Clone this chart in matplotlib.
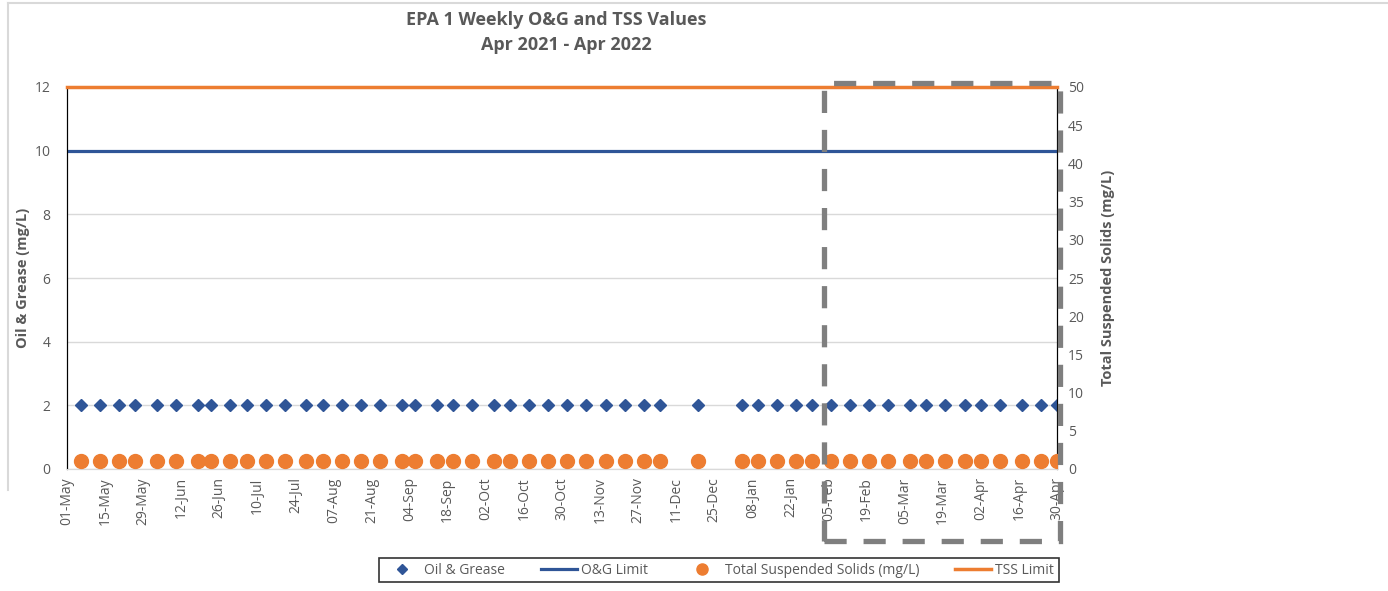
import numpy as np
import pandas as pd
import matplotlib
matplotlib.use("Agg")
import matplotlib.pyplot as plt
import matplotlib.dates as mdates
from matplotlib.patches import Rectangle
from matplotlib.lines import Line2D

# Datos
fechas = ["2021-05-06", "2021-05-13", "2021-05-20", "2021-05-26", "2021-06-03",
          "2021-06-10", "2021-06-18", "2021-06-23", "2021-06-30", "2021-07-06",
          "2021-07-13", "2021-07-20", "2021-07-28", "2021-08-03", "2021-08-10",
          "2021-08-17", "2021-08-24", "2021-09-01", "2021-09-06", "2021-09-14",
          "2021-09-20", "2021-09-27", "2021-10-05", "2021-10-11", "2021-10-18",
          "2021-10-25", "2021-11-01", "2021-11-08", "2021-11-15", "2021-11-22",
          "2021-11-29", "2021-12-05", "2021-12-19", "2022-01-04", "2022-01-10",
          "2022-01-17", "2022-01-24", "2022-01-30", "2022-02-06", "2022-02-13",
          "2022-02-20", "2022-02-27", "2022-03-07", "2022-03-13", "2022-03-20",
          "2022-03-27", "2022-04-02", "2022-04-09", "2022-04-17", "2022-04-24",
          "2022-04-30"]
oil_grease = [2] * len(fechas)
tss = [1] * len(fechas)
og_limit = 10
tss_limit = 50
x_inicio = "2021-05-01"
x_fin = "2022-04-30"

fechas = pd.to_datetime(fechas)
x0 = pd.Timestamp(x_inicio)
x1 = pd.Timestamp(x_fin)

azul = "#2F5597"
naranja = "#ED7D31"
gris = "#595959"

plt.rcParams['font.family'] = ['Open Sans', 'DejaVu Sans']

fig = plt.figure(figsize=(13.88, 5.91), dpi=100)
ax1 = fig.add_axes([67 / 1388, 1 - 469 / 591, 990 / 1388, 382 / 591])
ax2 = ax1.twinx()

# Eje izquierdo: aceite y grasa
ax1.plot(fechas, oil_grease, ls='none', marker='D', ms=6.5, color=azul,
         label='Oil & Grease', zorder=4)
ax1.plot([x0, x1], [og_limit, og_limit], color=azul, lw=2.3,
         label='O&G Limit', zorder=3)
ax1.set_ylim(0, 12)
ax1.set_yticks(np.arange(0, 13, 2))
ax1.set_xlim(x0, x1)
ax1.grid(axis='y', color='#D9D9D9', lw=1)
ax1.set_axisbelow(True)
ax1.set_ylabel('Oil & Grease (mg/L)', color=gris, fontsize=10.5,
               fontweight='bold', labelpad=3)

# Eje derecho: solidos suspendidos
ax2.plot(fechas, tss, ls='none', marker='o', ms=10, color=naranja,
         label='Total Suspended Solids (mg/L)', zorder=4)
ax2.plot([x0, x1], [tss_limit, tss_limit], color=naranja, lw=2.5,
         label='TSS Limit', zorder=3, clip_on=False)
ax2.set_ylim(0, 50)
ax2.set_yticks(np.arange(0, 51, 5))
ax2.set_ylabel('Total Suspended Solids (mg/L)', color=gris, fontsize=10.5,
               fontweight='bold', labelpad=12)

# Ticks de fecha cada 14 dias
ticks = pd.date_range(x0, x1, freq='14D')
ax1.set_xticks(ticks)
ax1.xaxis.set_major_formatter(mdates.DateFormatter('%d-%b'))
for lbl in ax1.get_xticklabels():
    lbl.set_rotation(90)

for ax in (ax1, ax2):
    ax.tick_params(length=0, colors=gris, labelsize=10)
    ax.spines['top'].set_visible(False)
    ax.spines['left'].set_color('black')
    ax.spines['right'].set_color('black')
    ax.spines['bottom'].set_color('#D9D9D9')
ax1.tick_params(axis='y', pad=12)
ax2.tick_params(axis='y', pad=8)
ax1.tick_params(axis='x', pad=6)

# Titulo
fig.text(556 / 1388, 1 - 20 / 591, 'EPA 1 Weekly O&G and TSS Values',
         ha='center', va='center', fontsize=13, fontweight='bold', color=gris)
fig.text(566 / 1388, 1 - 45 / 591, 'Apr 2021 - Apr 2022',
         ha='center', va='center', fontsize=13, fontweight='bold', color=gris)

# Leyenda
h1, l1 = ax1.get_legend_handles_labels()
h2, l2 = ax2.get_legend_handles_labels()
leg = fig.legend(h1 + h2, l1 + l2, loc='center', ncol=4,
                 bbox_to_anchor=(719 / 1388, 1 - 570 / 591),
                 frameon=True, fancybox=False, edgecolor='black',
                 fontsize=10, handlelength=2.6, handletextpad=0.3,
                 columnspacing=2.6, markerscale=0.8, borderpad=0.35)
leg.get_frame().set_linewidth(1.2)
for t in leg.get_texts():
    t.set_color(gris)

# Recuadro punteado gris
rect = Rectangle((824 / 1388, 1 - 541 / 591), (1060 - 824) / 1388, (541 - 83) / 591,
                 transform=fig.transFigure, fill=False, edgecolor='#7F7F7F',
                 lw=3.8, linestyle=(0, (4.2, 3.2)), zorder=10)
fig.patches.append(rect)

# Bordes grises del area
fig.lines.append(Line2D([8 / 1388, 1], [1 - 3 / 591, 1 - 3 / 591],
                        transform=fig.transFigure, color='#D9D9D9', lw=1.5))
fig.lines.append(Line2D([8 / 1388, 8 / 1388], [1 - 3 / 591, 1 - 490 / 591],
                        transform=fig.transFigure, color='#D9D9D9', lw=1.5))

fig.savefig('out.png', dpi=100)
